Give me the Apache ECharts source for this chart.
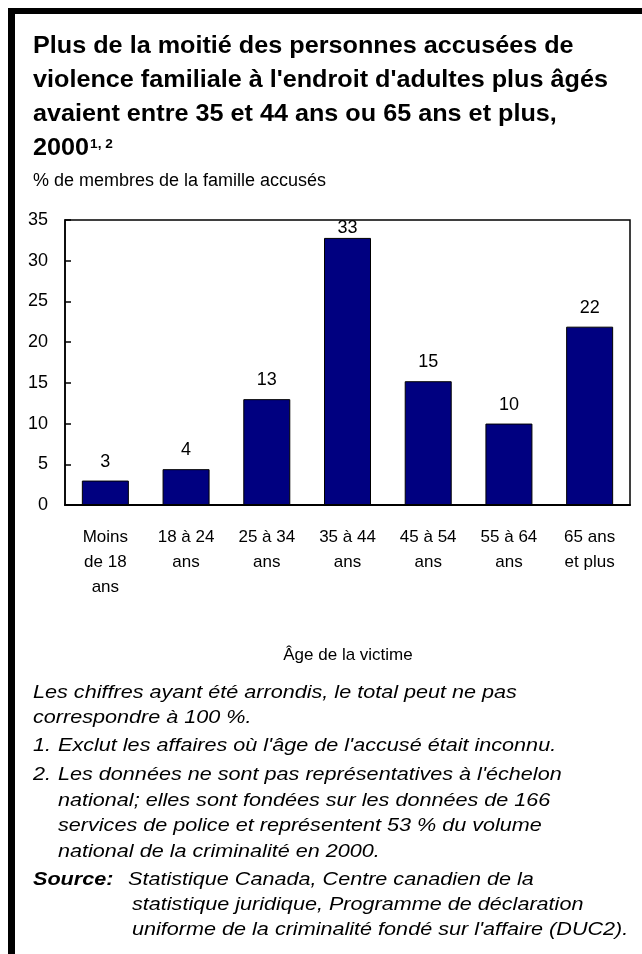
<!DOCTYPE html>
<html>
<head>
<meta charset="utf-8">
<script src="https://cdn.jsdelivr.net/npm/echarts@6/dist/echarts.min.js"></script>
<style>
  html, body { margin: 0; padding: 0; background: #fff; }
  #chart { width: 642px; height: 954px; }
</style>
</head>
<body>
<div id="chart"></div>
<script>
// données
var categories = ['Moins\nde 18\nans', '18 à 24\nans', '25 à 34\nans', '35 à 44\nans', '45 à 54\nans', '55 à 64\nans', '65 ans\net plus'];
var values = [3.0, 4.4, 13.0, 32.8, 15.2, 10.0, 21.9];
var yTicks = [0, 5, 10, 15, 20, 25, 30, 35];

var titleLines = [
  "Plus de la moitié des personnes accusées de",
  "violence familiale à l'endroit d'adultes plus âgés",
  "avaient entre 35 et 44 ans ou 65 ans et plus,"
];
var notes = [
  "Les chiffres ayant été arrondis, le total peut ne pas",
  "correspondre à 100 %."
];
var note1 = "Exclut les affaires où l'âge de l'accusé était inconnu.";
var note2 = [
  "Les données ne sont pas représentatives à l'échelon",
  "national; elles sont fondées sur les données de 166",
  "services de police et représentent 53 % du volume",
  "national de la criminalité en 2000."
];
var sourceLines = [
  "Statistique Canada, Centre canadien de la",
  "statistique juridique, Programme de déclaration",
  "uniforme de la criminalité fondé sur l'affaire (DUC2)."
];

var FONT = 'Liberation Sans, Arial, sans-serif';
var chart = echarts.init(document.getElementById('chart'));

// texte placé en (x, y), étiré horizontalement de sx
function txt(x, y, text, font, sx, align) {
  return {
    type: 'text',
    x: x, y: y,
    scaleX: sx || 1,
    style: {
      text: text, x: 0, y: 0,
      fill: '#000',
      font: font || ('17px ' + FONT),
      textAlign: align || 'left',
      textVerticalAlign: 'middle'
    }
  };
}

var graphics = [
  // cadre noir (haut et gauche)
  { type: 'rect', shape: { x: 8, y: 8, width: 634, height: 6 }, style: { fill: '#000' } },
  { type: 'rect', shape: { x: 8, y: 8, width: 7, height: 946 }, style: { fill: '#000' } }
];

var TB = 'bold 24px ' + FONT;
var TSX = 1.05;
titleLines.forEach(function (l, i) {
  graphics.push(txt(33, 46 + i * 34, l, TB, TSX));
});
graphics.push({
  type: 'text',
  x: 33, y: 148,
  scaleX: TSX,
  style: {
    x: 0, y: 0,
    textVerticalAlign: 'middle',
    rich: {
      t: { font: TB, fill: '#000' },
      s: { font: 'bold 13px ' + FONT, fill: '#000', padding: [0, 0, 8, 1] }
    },
    text: '{t|2000}{s|1, 2}'
  }
});
graphics.push(txt(33, 181, '% de membres de la famille accusés', '18px ' + FONT));
graphics.push(txt(348, 655, 'Âge de la victime', '17px ' + FONT, 1, 'center'));

var IT = 'italic 18px ' + FONT;
var FSX = 1.2;
notes.forEach(function (l, i) {
  graphics.push(txt(33, 693 + i * 25, l, IT, FSX));
});
graphics.push(txt(33, 746, '1.', IT, FSX));
graphics.push(txt(58, 746, note1, IT, FSX));
graphics.push(txt(33, 775, '2.', IT, FSX));
note2.forEach(function (l, i) {
  graphics.push(txt(58, 775 + i * 25.5, l, IT, FSX));
});
graphics.push(txt(33, 880, 'Source:', 'italic bold 18px ' + FONT, FSX));
sourceLines.forEach(function (l, i) {
  graphics.push(txt(i === 0 ? 128 : 132, 880 + i * 25, l, IT, FSX));
});

var option = {
  backgroundColor: '#fff',
  animation: false,
  textStyle: { fontFamily: FONT },
  grid: {
    left: 65, right: 12, top: 220, bottom: 449,
    show: true, borderColor: '#000', borderWidth: 1.5
  },
  xAxis: {
    type: 'category',
    data: categories,
    axisLine: { lineStyle: { color: '#000', width: 2 } },
    axisTick: { show: false },
    axisLabel: {
      color: '#000', fontSize: 17, lineHeight: 25, margin: 20, interval: 0
    }
  },
  yAxis: {
    type: 'value',
    min: yTicks[0],
    max: yTicks[yTicks.length - 1],
    interval: yTicks[1] - yTicks[0],
    splitLine: { show: false },
    axisLine: { show: true, lineStyle: { color: '#000', width: 1.5 } },
    axisTick: { show: true, inside: true, length: 6, lineStyle: { color: '#000', width: 1.5 } },
    axisLabel: { color: '#000', fontSize: 18, margin: 17 }
  },
  series: [{
    type: 'bar',
    data: values.map(function (v) {
      return { value: v, label: { distance: v > 30 ? 1 : 10 } };
    }),
    barWidth: 47,
    itemStyle: { color: '#000080', borderColor: '#000', borderWidth: 1 },
    label: {
      show: true,
      position: 'top',
      color: '#000',
      fontSize: 18,
      formatter: function (p) { return Math.round(p.value); }
    }
  }],
  graphic: graphics
};

chart.setOption(option);
</script>
</body>
</html>
